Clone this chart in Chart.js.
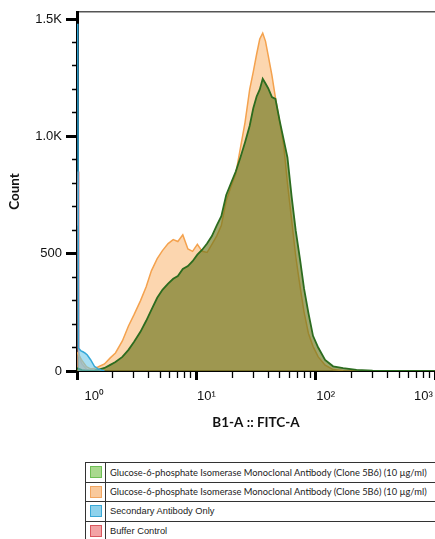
<!DOCTYPE html>
<html>
<head>
<meta charset="utf-8">
<title>B1-A :: FITC-A</title>
<script src="https://cdn.jsdelivr.net/npm/chart.js@4.4.1/dist/chart.umd.min.js"></script>
<style>
    html, body { margin: 0; padding: 0; background: #fff; overflow: hidden; }
    #wrap { position: relative; width: 435px; height: 539px; overflow: hidden; }
    #histo { position: absolute; left: 0; top: 0; }
    #legend { position: absolute; left: 85px; top: 462px; border-collapse: collapse; width: 380px; }
    #legend td { border: 1px solid #333; height: 18.5px; padding: 0; }
    #legend td.sw { width: 19px; text-align: center; line-height: 0; }
    #legend td.lbl { padding-left: 4px; font-size: 9.3px; color: #222; white-space: nowrap; }
    .box { display: inline-block; width: 10px; height: 10px; border: 1.5px solid; }
</style>
</head>
<body>
<div id="wrap">
    <canvas id="histo" width="435" height="445"></canvas>
    <table id="legend"><tbody id="legendBody"></tbody></table>
</div>
<script>
// fluorescence channel values (B1-A :: FITC-A) shared by the two antibody histograms
const channelValues = [1.0, 1.1, 1.2, 1.3, 1.4, 1.5, 1.7, 1.9, 2.1, 2.4, 2.7, 3.0, 3.4, 3.8, 4.2, 4.7, 5.2, 5.8, 6.4, 7.0,
    7.7, 8.5, 9.3, 10.2, 11.2, 12.3, 13.5, 14.8, 16.2, 17.8, 19.5, 21.4, 23.4, 25.6, 28, 30, 32, 34, 36, 38,
    40, 43, 46, 50, 54, 58, 63, 68, 74, 80, 87, 95, 105, 120, 140, 170, 220, 300, 500, 1000];

const greenCounts = [12, 4, 2, 2, 3, 5, 13, 26, 38, 60, 90, 124, 167, 214, 261, 312, 346, 372, 393, 405,
    435, 447, 468, 496, 517, 543, 575, 620, 660, 750, 800, 850, 910, 975, 1045, 1120, 1170, 1200, 1245, 1225,
    1205, 1167, 1160, 1065, 985, 910, 740, 600, 475, 350, 247, 150, 100, 47, 20, 12, 5, 1, 0, 0];

const orangeCounts = [80, 45, 18, 9, 12, 17, 30, 56, 77, 128, 192, 239, 299, 359, 427, 479, 513, 543, 560, 552,
    580, 520, 510, 540, 510, 505, 540, 575, 620, 725, 785, 840, 950, 1060, 1200, 1275, 1350, 1415, 1440, 1405,
    1345, 1260, 1165, 1060, 960, 800, 640, 490, 360, 250, 160, 105, 60, 25, 6, 1, 0, 0, 0, 0];

// controls sit almost entirely at the low end of the axis
const secondaryValues = [1.015, 1.03, 1.05, 1.08, 1.12, 1.17, 1.22, 1.3, 1.4, 1.5, 1.6, 1.7];
const secondaryCounts = [1480, 98, 92, 86, 82, 76, 68, 48, 20, 9, 4, 0];

const bufferValues = [1.0, 1.02, 1.035, 1.06, 1.1, 1.2, 1.3];
const bufferCounts = [620, 850, 80, 50, 30, 8, 0];

const seriesNames = [
    'Glucose-6-phosphate Isomerase Monoclonal Antibody (Clone 5B6) (10 µg/ml)',
    'Glucose-6-phosphate Isomerase Monoclonal Antibody (Clone 5B6) (10 µg/ml)',
    'Secondary Antibody Only',
    'Buffer Control'
];

const xTickValues = [1, 2, 3, 4, 5, 6, 7, 8, 9, 10, 20, 30, 40, 50, 60, 70, 80, 90,
    100, 200, 300, 400, 500, 600, 700, 800, 900, 1000];
const xLabelValues = [1, 10, 100, 1000];
const xLabelTexts = ['10⁰', '10¹', '10²', '10³'];

const yTickValues = [0, 100, 200, 300, 400, 500, 600, 700, 800, 900, 1000, 1100, 1200, 1300, 1400, 1500];
const yLabelValues = [0, 500, 1000, 1500];
const yLabelTexts = ['0', '500', '1.0K', '1.5K'];

// styles
const lineColors = ['#2c6c1f', '#f4a24e', '#34a8d8', '#e98a8a'];
const fillColors = ['rgba(107, 119, 29, 0.65)', 'rgba(249, 180, 110, 0.55)', 'rgba(110, 200, 232, 0.6)', 'rgba(240, 150, 150, 0.5)'];
const swatchFills = ['#a9d98e', '#f9c99c', '#8ed2ec', '#f3a3a5'];
const swatchEdges = ['#6fbf55', '#f1a661', '#39a8d6', '#d9575e'];
const legendFonts = ['Lato, sans-serif', 'Lato, sans-serif', "'Liberation Sans', Arial, sans-serif", "'Liberation Sans', Arial, sans-serif"];

function toPoints(xs, ys) {
    return xs.map((v, i) => ({ x: v, y: ys[i] }));
}

function isDecade(v) {
    return Math.abs(Math.log10(v) - Math.round(Math.log10(v))) < 1e-9;
}

const tickFont = { family: '"Liberation Sans", Arial, sans-serif', size: 13 };
const titleFont = { family: 'Lato, sans-serif', size: 13.5, weight: 'bold' };

const datasets = [
    { label: seriesNames[0], data: toPoints(channelValues, greenCounts), order: 1 },
    { label: seriesNames[1], data: toPoints(channelValues, orangeCounts), order: 2 },
    { label: seriesNames[2], data: toPoints(secondaryValues, secondaryCounts), order: 0 },
    { label: seriesNames[3], data: toPoints(bufferValues, bufferCounts), order: 3 }
].map((ds, i) => Object.assign(ds, {
    borderColor: lineColors[i],
    backgroundColor: fillColors[i],
    borderWidth: i === 0 ? 1.8 : 1.5,
    fill: 'origin',
    pointRadius: 0,
    tension: 0
}));

new Chart(document.getElementById('histo').getContext('2d'), {
    type: 'line',
    data: { datasets: datasets },
    options: {
        responsive: false,
        animation: false,
        layout: { padding: { top: 12, right: 0, bottom: 0, left: 0 } },
        plugins: { legend: { display: false }, tooltip: { enabled: false } },
        scales: {
            x: {
                type: 'logarithmic',
                min: 1,
                max: 1000,
                afterBuildTicks: s => { s.ticks = xTickValues.map(v => ({ value: v, major: isDecade(v) })); },
                afterFit: s => { s.height = 74; s.paddingLeft = 0; s.paddingRight = 0; },
                grid: {
                    drawOnChartArea: false,
                    tickLength: 9,
                    tickColor: '#000',
                    tickWidth: c => (c.tick && isDecade(c.tick.value)) ? 3 : 1.3,
                    tickBorderDash: c => (c.tick && isDecade(c.tick.value)) ? [] : [6, 20]
                },
                border: { display: true, color: '#000', width: 2 },
                ticks: {
                    autoSkip: false,
                    maxRotation: 0,
                    labelOffset: 10,
                    padding: 9,
                    color: '#111',
                    font: tickFont,
                    callback: v => {
                        const k = xLabelValues.indexOf(v);
                        if (k < 0) return '';
                        if (k === 0) return '    ' + xLabelTexts[k];
                        if (k === xLabelValues.length - 1) return xLabelTexts[k] + '            ';
                        return xLabelTexts[k];
                    }
                },
                title: { display: true, text: 'B1-A :: FITC-A', color: '#111', font: titleFont, padding: { top: 0, bottom: 14 } }
            },
            xTop: {
                type: 'linear',
                position: 'top',
                min: 0,
                max: 1,
                afterFit: s => { s.height = 0; s.paddingLeft = 0; s.paddingRight = 0; },
                grid: { drawOnChartArea: false, drawTicks: false },
                border: { display: true, color: '#555', width: 1.5 },
                ticks: { display: false }
            },
            y: {
                min: 0,
                max: 1530,
                afterBuildTicks: s => { s.ticks = yTickValues.map(v => ({ value: v })); },
                afterFit: s => { s.width = 77; s.paddingTop = 0; s.paddingBottom = 0; },
                grid: {
                    drawOnChartArea: false,
                    tickLength: 11,
                    tickColor: '#000',
                    tickWidth: c => (c.tick && yLabelValues.includes(c.tick.value)) ? 3 : 1.3,
                    tickBorderDash: c => (c.tick && yLabelValues.includes(c.tick.value)) ? [] : [0, 6, 20]
                },
                border: { display: true, color: '#000', width: 3 },
                ticks: {
                    autoSkip: false,
                    padding: 4,
                    color: '#111',
                    font: tickFont,
                    callback: v => {
                        const k = yLabelValues.indexOf(v);
                        return k < 0 ? '' : yLabelTexts[k];
                    }
                },
                title: { display: true, text: 'Count', color: '#111', font: titleFont, padding: { top: 7, bottom: 0 } }
            }
        }
    }
});

// legend table underneath the plot
const legendBody = document.getElementById('legendBody');
seriesNames.forEach((name, i) => {
    const row = document.createElement('tr');
    row.innerHTML = `
        <td class="sw"><span class="box" style="background:${swatchFills[i]};border-color:${swatchEdges[i]}"></span></td>
        <td class="lbl" style="font-family:${legendFonts[i]}">${name}</td>
    `;
    legendBody.appendChild(row);
});
</script>
</body>
</html>
